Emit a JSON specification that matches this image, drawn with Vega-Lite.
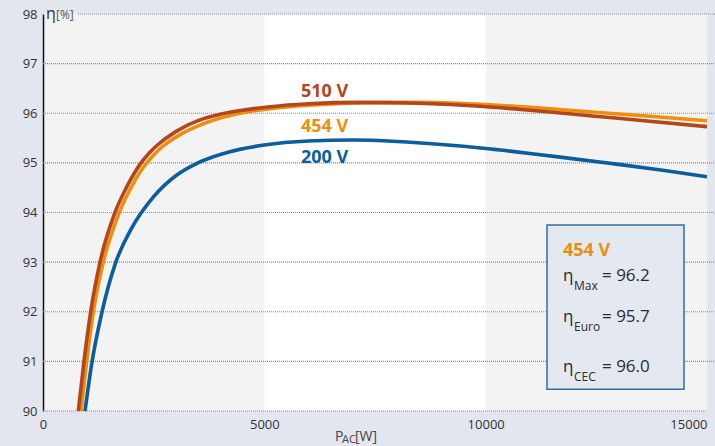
{
  "$schema": "https://vega.github.io/schema/vega-lite/v6.json",
  "width": 664,
  "height": 397,
  "autosize": {"type": "none"},
  "padding": {"left": 43, "top": 14, "right": 8, "bottom": 35},
  "background": "#e3e6ef",
  "view": {"fill": "#f3f3f3", "stroke": null},
  "config": {"font": "Open Sans"},
  "datasets": {
    "bands": [{"x0": 5000, "x1": 10000}],
    "grid": [
      {"g": 90, "xs": 0, "xe": 15000},
      {"g": 91, "xs": 0, "xe": 15180},
      {"g": 92, "xs": 0, "xe": 15180},
      {"g": 93, "xs": 0, "xe": 15180},
      {"g": 94, "xs": 0, "xe": 15180},
      {"g": 95, "xs": 0, "xe": 15180},
      {"g": 96, "xs": 0, "xe": 15180},
      {"g": 97, "xs": 0, "xe": 15180},
      {"g": 98, "xs": 791, "xe": 15180}
    ],
    "curves": [
      {"s": "200 V", "p": 949, "eta": 90},
      {"s": "200 V", "p": 1100, "eta": 90.95},
      {"s": "200 V", "p": 1326, "eta": 91.97},
      {"s": "200 V", "p": 1626, "eta": 92.95},
      {"s": "200 V", "p": 2000, "eta": 93.68},
      {"s": "200 V", "p": 2500, "eta": 94.32},
      {"s": "200 V", "p": 3000, "eta": 94.74},
      {"s": "200 V", "p": 3500, "eta": 95.0},
      {"s": "200 V", "p": 4200, "eta": 95.22},
      {"s": "200 V", "p": 5000, "eta": 95.36},
      {"s": "200 V", "p": 6000, "eta": 95.44},
      {"s": "200 V", "p": 7000, "eta": 95.46},
      {"s": "200 V", "p": 8000, "eta": 95.43},
      {"s": "200 V", "p": 9000, "eta": 95.37},
      {"s": "200 V", "p": 10000, "eta": 95.29},
      {"s": "200 V", "p": 11000, "eta": 95.19},
      {"s": "200 V", "p": 12000, "eta": 95.08},
      {"s": "200 V", "p": 13000, "eta": 94.97},
      {"s": "200 V", "p": 14000, "eta": 94.85},
      {"s": "200 V", "p": 15000, "eta": 94.72},
      {"s": "454 V", "p": 858, "eta": 90},
      {"s": "454 V", "p": 987, "eta": 91},
      {"s": "454 V", "p": 1137, "eta": 92},
      {"s": "454 V", "p": 1363, "eta": 93},
      {"s": "454 V", "p": 1724, "eta": 94},
      {"s": "454 V", "p": 2000, "eta": 94.52},
      {"s": "454 V", "p": 2259, "eta": 94.9},
      {"s": "454 V", "p": 2500, "eta": 95.16},
      {"s": "454 V", "p": 2700, "eta": 95.33},
      {"s": "454 V", "p": 3100, "eta": 95.57},
      {"s": "454 V", "p": 3600, "eta": 95.78},
      {"s": "454 V", "p": 4290, "eta": 95.97},
      {"s": "454 V", "p": 4700, "eta": 96.04},
      {"s": "454 V", "p": 5128, "eta": 96.09},
      {"s": "454 V", "p": 6000, "eta": 96.16},
      {"s": "454 V", "p": 7200, "eta": 96.21},
      {"s": "454 V", "p": 8500, "eta": 96.22},
      {"s": "454 V", "p": 9872, "eta": 96.18},
      {"s": "454 V", "p": 11000, "eta": 96.12},
      {"s": "454 V", "p": 12470, "eta": 96.02},
      {"s": "454 V", "p": 13700, "eta": 95.94},
      {"s": "454 V", "p": 15000, "eta": 95.85},
      {"s": "510 V", "p": 798, "eta": 90},
      {"s": "510 V", "p": 926, "eta": 91},
      {"s": "510 V", "p": 1077, "eta": 92},
      {"s": "510 V", "p": 1288, "eta": 93},
      {"s": "510 V", "p": 1626, "eta": 94},
      {"s": "510 V", "p": 1900, "eta": 94.53},
      {"s": "510 V", "p": 2191, "eta": 94.97},
      {"s": "510 V", "p": 2400, "eta": 95.2},
      {"s": "510 V", "p": 2600, "eta": 95.37},
      {"s": "510 V", "p": 3000, "eta": 95.63},
      {"s": "510 V", "p": 3500, "eta": 95.85},
      {"s": "510 V", "p": 4000, "eta": 95.98},
      {"s": "510 V", "p": 4500, "eta": 96.06},
      {"s": "510 V", "p": 5128, "eta": 96.13},
      {"s": "510 V", "p": 6000, "eta": 96.19},
      {"s": "510 V", "p": 7160, "eta": 96.22},
      {"s": "510 V", "p": 8500, "eta": 96.2},
      {"s": "510 V", "p": 9872, "eta": 96.14},
      {"s": "510 V", "p": 11000, "eta": 96.06},
      {"s": "510 V", "p": 12470, "eta": 95.94},
      {"s": "510 V", "p": 13700, "eta": 95.84},
      {"s": "510 V", "p": 15000, "eta": 95.73}
    ],
    "labels": [
      {"s": "510 V", "x": 5828, "y": 96.33, "t": "510 V"},
      {"s": "454 V", "x": 5828, "y": 95.62, "t": "454 V"},
      {"s": "200 V", "x": 5828, "y": 95.0, "t": "200 V"},
      {"s": "454 V", "x": 11747, "y": 93.12, "t": "454 V"}
    ],
    "box": [{"x0": 11386, "x1": 14480, "y0": 90.44, "y1": 93.75}],
    "boxText": [
      {"x": 11747, "y": 92.62, "t": "η"},
      {"x": 12628, "y": 92.62, "t": "= 96.2"},
      {"x": 11747, "y": 91.79, "t": "η"},
      {"x": 12628, "y": 91.79, "t": "= 95.7"},
      {"x": 11747, "y": 90.79, "t": "η"},
      {"x": 12628, "y": 90.79, "t": "= 96.0"}
    ],
    "boxSub": [
      {"x": 11995, "y": 92.44, "t": "Max"},
      {"x": 11995, "y": 91.61, "t": "Euro"},
      {"x": 11995, "y": 90.6, "t": "CEC"}
    ],
    "yTitleEta": [{"x": 68, "y": 97.9, "t": "η"}],
    "yTitleUnit": [{"x": 294, "y": 97.9, "t": "[%]"}],
    "xTitleMain": [
      {"x": 6596, "t": "P"},
      {"x": 7048, "t": "[W]"}
    ],
    "xTitleSub": [{"x": 6754, "t": "AC"}]
  },
  "layer": [
    {
      "data": {"name": "bands"},
      "mark": {"type": "rect", "fill": "#ffffff"},
      "encoding": {
        "x": {"field": "x0", "type": "quantitative", "scale": {"domain": [0, 15000], "nice": false, "zero": false}},
        "x2": {"field": "x1"}
      }
    },
    {
      "data": {"name": "grid"},
      "mark": {"type": "rule", "stroke": "#8a8a8a", "strokeWidth": 1.2, "strokeDash": [1, 1]},
      "encoding": {
        "x": {
          "field": "xs", "type": "quantitative",
          "scale": {"domain": [0, 15000], "nice": false, "zero": false},
          "axis": {
            "title": null, "values": [0, 5000, 10000, 15000], "format": "d", "grid": false, "ticks": false, "domain": false,
            "labelFlush": false,
            "labelAlign": {"condition": {"test": "datum.value == 15000", "value": "right"}, "value": "center"},
            "labelPadding": 7, "labelFont": "Open Sans", "labelFontSize": 13, "labelColor": "#333333"
          }
        },
        "x2": {"field": "xe"},
        "y": {
          "field": "g", "type": "quantitative",
          "scale": {"domain": [90, 98], "nice": false, "zero": false},
          "axis": {
            "title": null, "values": [90, 91, 92, 93, 94, 95, 96, 97, 98], "grid": false, "ticks": false,
            "domain": true, "domainColor": "#111111", "domainWidth": 1.5,
            "labelPadding": 6, "labelFont": "Open Sans", "labelFontSize": 13, "labelColor": "#333333"
          }
        }
      }
    },
    {
      "data": {"name": "curves"},
      "mark": {"type": "line", "strokeWidth": 3.6, "interpolate": "monotone"},
      "encoding": {
        "x": {"field": "p", "type": "quantitative", "scale": {"domain": [0, 15000], "nice": false, "zero": false}},
        "y": {"field": "eta", "type": "quantitative", "scale": {"domain": [90, 98], "nice": false, "zero": false}},
        "color": {
          "field": "s", "type": "nominal",
          "scale": {"domain": ["200 V", "454 V", "510 V"], "range": ["#0a5d9e", "#ef8e0a", "#b5451b"]},
          "legend": null
        }
      }
    },
    {
      "data": {"name": "box"},
      "mark": {"type": "rect", "fill": "#e4e8f1", "stroke": "#2e6ca4", "strokeWidth": 1.5},
      "encoding": {
        "x": {"field": "x0", "type": "quantitative", "scale": {"domain": [0, 15000], "nice": false, "zero": false}},
        "x2": {"field": "x1"},
        "y": {"field": "y0", "type": "quantitative", "scale": {"domain": [90, 98], "nice": false, "zero": false}},
        "y2": {"field": "y1"}
      }
    },
    {
      "data": {"name": "labels"},
      "mark": {"type": "text", "fontSize": 18, "fontWeight": "bold", "align": "left", "baseline": "alphabetic", "font": "Open Sans"},
      "encoding": {
        "x": {"field": "x", "type": "quantitative", "scale": {"domain": [0, 15000], "nice": false, "zero": false}},
        "y": {"field": "y", "type": "quantitative", "scale": {"domain": [90, 98], "nice": false, "zero": false}},
        "text": {"field": "t"},
        "color": {"field": "s", "type": "nominal", "scale": {"domain": ["200 V", "454 V", "510 V"], "range": ["#0a5d9e", "#ef8e0a", "#b5451b"]}, "legend": null}
      }
    },
    {
      "data": {"name": "boxText"},
      "mark": {"type": "text", "fontSize": 17, "align": "left", "baseline": "alphabetic", "font": "Open Sans", "color": "#2b2b2b"},
      "encoding": {
        "x": {"field": "x", "type": "quantitative", "scale": {"domain": [0, 15000], "nice": false, "zero": false}},
        "y": {"field": "y", "type": "quantitative", "scale": {"domain": [90, 98], "nice": false, "zero": false}},
        "text": {"field": "t"}
      }
    },
    {
      "data": {"name": "boxSub"},
      "mark": {"type": "text", "fontSize": 12, "align": "left", "baseline": "alphabetic", "font": "Open Sans", "color": "#2b2b2b"},
      "encoding": {
        "x": {"field": "x", "type": "quantitative", "scale": {"domain": [0, 15000], "nice": false, "zero": false}},
        "y": {"field": "y", "type": "quantitative", "scale": {"domain": [90, 98], "nice": false, "zero": false}},
        "text": {"field": "t"}
      }
    },
    {
      "data": {"name": "yTitleEta"},
      "mark": {"type": "text", "fontSize": 16, "align": "left", "baseline": "alphabetic", "font": "Open Sans", "color": "#333333"},
      "encoding": {
        "x": {"field": "x", "type": "quantitative", "scale": {"domain": [0, 15000], "nice": false, "zero": false}},
        "y": {"field": "y", "type": "quantitative", "scale": {"domain": [90, 98], "nice": false, "zero": false}},
        "text": {"field": "t"}
      }
    },
    {
      "data": {"name": "yTitleUnit"},
      "mark": {"type": "text", "fontSize": 12, "align": "left", "baseline": "alphabetic", "font": "Open Sans", "color": "#555555"},
      "encoding": {
        "x": {"field": "x", "type": "quantitative", "scale": {"domain": [0, 15000], "nice": false, "zero": false}},
        "y": {"field": "y", "type": "quantitative", "scale": {"domain": [90, 98], "nice": false, "zero": false}},
        "text": {"field": "t"}
      }
    },
    {
      "data": {"name": "xTitleMain"},
      "mark": {"type": "text", "fontSize": 14, "align": "left", "baseline": "alphabetic", "font": "Open Sans", "color": "#444444", "dy": 30},
      "encoding": {
        "x": {"field": "x", "type": "quantitative", "scale": {"domain": [0, 15000], "nice": false, "zero": false}},
        "y": {"datum": 90, "type": "quantitative", "scale": {"domain": [90, 98], "nice": false, "zero": false}},
        "text": {"field": "t"}
      }
    },
    {
      "data": {"name": "xTitleSub"},
      "mark": {"type": "text", "fontSize": 11, "align": "left", "baseline": "alphabetic", "font": "Open Sans", "color": "#444444", "dy": 32},
      "encoding": {
        "x": {"field": "x", "type": "quantitative", "scale": {"domain": [0, 15000], "nice": false, "zero": false}},
        "y": {"datum": 90, "type": "quantitative", "scale": {"domain": [90, 98], "nice": false, "zero": false}},
        "text": {"field": "t"}
      }
    }
  ]
}
